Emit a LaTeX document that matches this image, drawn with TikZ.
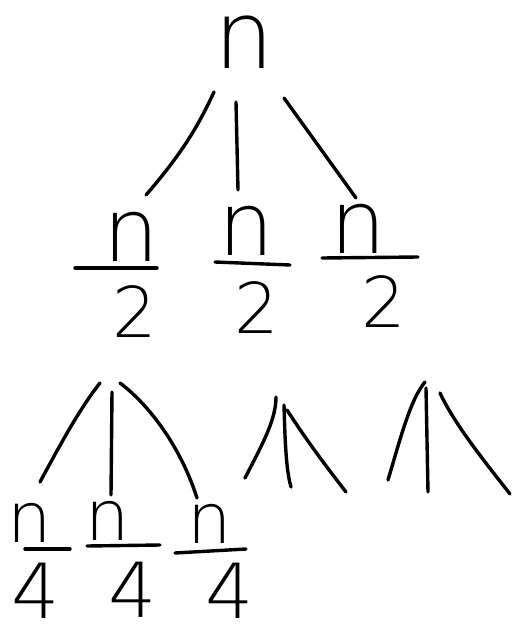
\documentclass[tikz,border=0pt]{standalone}
\usepackage{fontspec}
\newfontfamily\hand{DejaVu Sans}[UprightFont=* ExtraLight]
\begin{document}
\begin{tikzpicture}[x=1pt,y=-1pt,
  pen/.style={line width=3.4pt, line cap=round, line join=round},
  lbl/.style={inner sep=0pt, outer sep=0pt},
  big/.style={lbl, font=\hand\fontsize{94}{94}\selectfont},
  mid/.style={lbl, font=\hand\fontsize{88}{88}\selectfont},
  dig/.style={lbl, font=\hand\fontsize{70}{70}\selectfont},
  sml/.style={lbl, font=\hand\fontsize{70}{70}\selectfont},
  sdig/.style={lbl, font=\hand\fontsize{76}{76}\selectfont}]
\useasboundingbox (0,0) rectangle (514,627);
% root
\node[big] (root) at (244,42) {n};
% level 2
\node[mid] (a1) at (131,237) {n};
\node[dig] (a1d) at (135,312) {2};
\node[mid] (a2) at (246,231) {n};
\node[dig] (a2d) at (257,308) {2};
\node[mid] (a3) at (358,229) {n};
\node[dig] (a3d) at (384,302) {2};
\coordinate (a1bl) at (75,268); \coordinate (a1br) at (157,268);
\coordinate (a2bl) at (215,262); \coordinate (a2br) at (290,265);
\coordinate (a3bl) at (322,258); \coordinate (a3br) at (418,257);
\draw[pen] (a1bl) -- (a1br);
\draw[pen] (a2bl) -- (a2br);
\draw[pen] (a3bl) -- (a3br);
% level 3
\node[sml] (b1) at (30,523) {n};
\node[sdig] (b1d) at (36,591) {4};
\node[sml] (b2) at (108,521) {n};
\node[sdig] (b2d) at (133,590) {4};
\node[sml] (b3) at (210,524) {n};
\node[sdig] (b3d) at (230,591) {4};
\coordinate (b1bl) at (25,549); \coordinate (b1br) at (70,549);
\coordinate (b2bl) at (87,546); \coordinate (b2br) at (160,545);
\coordinate (b3bl) at (175,553); \coordinate (b3br) at (246,549);
\draw[pen] (b1bl) -- (b1br);
\draw[pen] (b2bl) -- (b2br);
\draw[pen] (b3bl) -- (b3br);
% root connectors
\coordinate (r1) at (214,92); \coordinate (e1) at (146,195);
\coordinate (r2) at (236,102); \coordinate (e2) at (238,190);
\coordinate (r3) at (284,98); \coordinate (e3) at (356,198);
\draw[pen] (r1) .. controls (200,122) and (185,150) .. (e1);
\draw[pen] (r2) -- (e2);
\draw[pen] (r3) -- (e3);
% subtree under first n/2
\coordinate (s1) at (100,383); \coordinate (f1) at (40,482);
\coordinate (s2) at (112,392); \coordinate (f2) at (111,495);
\coordinate (s3) at (120,383); \coordinate (f3) at (197,498);
\draw[pen] (s1) .. controls (80,408) and (60,445) .. (f1);
\draw[pen] (s2) -- (f2);
\draw[pen] (s3) .. controls (148,404) and (180,445) .. (f3);
% subtree under second n/2
\coordinate (t1) at (276,397); \coordinate (g1) at (245,478);
\coordinate (t2) at (284,405); \coordinate (g2) at (291,487);
\coordinate (t3) at (287,410); \coordinate (g3) at (346,492);
\draw[pen] (t1) .. controls (276,420) and (262,445) .. (g1);
\draw[pen] (t2) .. controls (285,440) and (286,470) .. (g2);
\draw[pen] (t3) .. controls (305,438) and (325,465) .. (g3);
% subtree under third n/2
\coordinate (u1) at (425,382); \coordinate (h1) at (388,480);
\coordinate (u2) at (426,388); \coordinate (h2) at (428,492);
\coordinate (u3) at (440,393); \coordinate (h3) at (510,494);
\draw[pen] (u1) .. controls (410,400) and (400,440) .. (h1);
\draw[pen] (u2) -- (h2);
\draw[pen] (u3) .. controls (455,425) and (485,462) .. (h3);
\end{tikzpicture}
\end{document}
